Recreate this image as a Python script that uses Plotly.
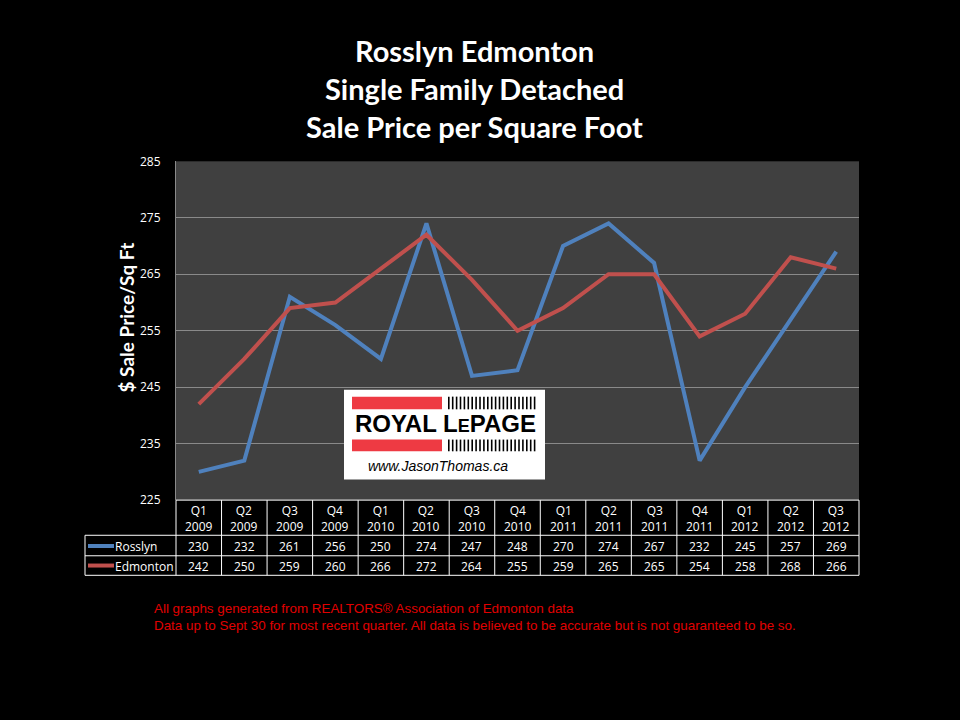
import plotly.graph_objects as go

quarters = ["Q1", "Q2", "Q3", "Q4", "Q1", "Q2", "Q3", "Q4", "Q1", "Q2", "Q3", "Q4", "Q1", "Q2", "Q3"]
years = ["2009", "2009", "2009", "2009", "2010", "2010", "2010", "2010",
         "2011", "2011", "2011", "2011", "2012", "2012", "2012"]
rosslyn = [230, 232, 261, 256, 250, 274, 247, 248, 270, 274, 267, 232, 245, 257, 269]
edmonton = [242, 250, 259, 260, 266, 272, 264, 255, 259, 265, 265, 254, 258, 268, 266]
series_names = ["Rosslyn", "Edmonton"]
series_colors = ["#4f81bd", "#c0504d"]
y_ticks = [225, 235, 245, 255, 265, 275, 285]

W, H = 960, 720
def px(x):
    return x / W
def py(y):
    return 1 - y / H

PL, PR, PT, PB = 176, 859, 156, 503
n = len(quarters)
colw = (PR - PL) / n

fig = go.Figure()
for name, vals, col in zip(series_names, [rosslyn, edmonton], series_colors):
    fig.add_trace(go.Scatter(x=list(range(n)), y=vals, mode="lines", name=name,
                             line=dict(color=col, width=4), showlegend=False, hoverinfo="skip"))

shapes = []
annotations = []

# Table grid
white = dict(color="white", width=1)
table_bottom = 580
row_lines = [539, 560, 580]
shapes.append(dict(type="line", xref="paper", yref="paper", x0=px(PL), x1=px(PR), y0=py(PB), y1=py(PB), line=white))
for yy in row_lines:
    shapes.append(dict(type="line", xref="paper", yref="paper", x0=px(85), x1=px(PR), y0=py(yy), y1=py(yy), line=white))
for i in range(n + 1):
    xx = PL + i * colw
    shapes.append(dict(type="line", xref="paper", yref="paper", x0=px(xx), x1=px(xx), y0=py(PB), y1=py(table_bottom), line=white))
shapes.append(dict(type="line", xref="paper", yref="paper", x0=px(85), x1=px(85), y0=py(539), y1=py(table_bottom), line=white))

tfont = dict(family="Open Sans, Noto Sans, sans-serif", size=12, color="white")
for i in range(n):
    cx = PL + (i + 0.5) * colw
    annotations.append(dict(x=px(cx), y=py(522), xref="paper", yref="paper",
                            text=quarters[i] + "<br>" + years[i],
                            showarrow=False, font=tfont, xanchor="center", yanchor="middle"))
    annotations.append(dict(x=px(cx), y=py(551), xref="paper", yref="paper", text=str(rosslyn[i]),
                            showarrow=False, font=tfont, xanchor="center", yanchor="middle"))
    annotations.append(dict(x=px(cx), y=py(571), xref="paper", yref="paper", text=str(edmonton[i]),
                            showarrow=False, font=tfont, xanchor="center", yanchor="middle"))

for j, (name, col) in enumerate(zip(series_names, series_colors)):
    yy = 550 + 20 * j
    shapes.append(dict(type="line", xref="paper", yref="paper", x0=px(88), x1=px(114), y0=py(yy), y1=py(yy),
                       line=dict(color=col, width=4)))
    annotations.append(dict(x=px(113), y=py(yy + 1), xref="paper", yref="paper", text=name,
                            showarrow=False, font=tfont, xanchor="left", yanchor="middle"))

# Logo
LX0, LX1, LY0, LY1 = 344, 545, 390, 482
shapes.append(dict(type="rect", xref="paper", yref="paper", x0=px(LX0), x1=px(LX1), y0=py(LY0), y1=py(LY1),
                   fillcolor="white", line=dict(width=0), layer="above"))
for (a, b) in [(397, 410), (441, 453)]:
    shapes.append(dict(type="rect", xref="paper", yref="paper", x0=px(352), x1=px(442), y0=py(a), y1=py(b),
                       fillcolor="#ee3a43", line=dict(width=0), layer="above"))
    xs = 448.0
    while xs < 537:
        shapes.append(dict(type="rect", xref="paper", yref="paper", x0=px(xs), x1=px(xs + 1.6), y0=py(a), y1=py(b),
                           fillcolor="black", line=dict(width=0), layer="above"))
        xs += 3.9
annotations.append(dict(x=px(445), y=py(425), xref="paper", yref="paper",
                        text="<b>ROYAL L<span style='font-size:18px'>E</span>PAGE</b>", showarrow=False,
                        font=dict(family="Liberation Sans, Arial, sans-serif", size=24, color="black"),
                        xanchor="center", yanchor="middle"))
annotations.append(dict(x=px(366), y=py(468), xref="paper", yref="paper",
                        text="<i>www.JasonThomas.ca</i>", showarrow=False,
                        font=dict(family="Liberation Sans, Arial, sans-serif", size=14, color="black"),
                        xanchor="left", yanchor="middle"))

# Titles
title_font = dict(family="Lato, Open Sans, sans-serif", size=29, color="white")
for txt, yy in [("Rosslyn Edmonton", 42), ("Single Family Detached", 81), ("Sale Price per Square Foot", 120)]:
    annotations.append(dict(x=px(474), y=py(yy), xref="paper", yref="paper", text="<b>" + txt + "</b>",
                            showarrow=False, font=title_font, xanchor="center", yanchor="middle"))

# Y axis title
annotations.append(dict(x=px(127), y=py(316), xref="paper", yref="paper", text="<b>$ Sale Price/Sq Ft</b>",
                        showarrow=False, textangle=-90,
                        font=dict(family="Lato, Open Sans, sans-serif", size=19, color="white"),
                        xanchor="center", yanchor="middle"))

# Footer
foot_font = dict(family="Liberation Sans Narrow, Arial Narrow, Liberation Sans, sans-serif", size=13.4, color="#e00000")
annotations.append(dict(x=px(152), y=py(614), xref="paper", yref="paper",
                        text="All graphs generated from REALTORS® Association of Edmonton data",
                        showarrow=False, font=foot_font, xanchor="left", yanchor="middle"))
annotations.append(dict(x=px(152), y=py(631), xref="paper", yref="paper",
                        text="Data up to Sept 30 for most recent quarter. All data is believed to be accurate but is not guaranteed to be so.",
                        showarrow=False, font=foot_font, xanchor="left", yanchor="middle"))

fig.update_layout(
    width=W, height=H,
    paper_bgcolor="black", plot_bgcolor="#404040",
    margin=dict(l=0, r=0, t=0, b=0),
    xaxis=dict(domain=[px(PL), px(PR)], range=[-0.5, n - 0.5], showticklabels=False,
               showgrid=False, zeroline=False, showline=False, fixedrange=True),
    yaxis=dict(domain=[py(PB), py(PT)], range=[225, 285], tickvals=y_ticks,
               tickfont=dict(family="Open Sans, Noto Sans, sans-serif", size=12, color="white"),
               gridcolor="#8a8a8a", gridwidth=1, zeroline=False, showline=True, linecolor="#8a8a8a",
               ticks="", ticklabelstandoff=12, fixedrange=True),
    shapes=shapes, annotations=annotations,
)

fig.write_html("out.html", config={"displayModeBar": False},
               post_script="document.body.style.margin='0';document.body.style.background='black';")
